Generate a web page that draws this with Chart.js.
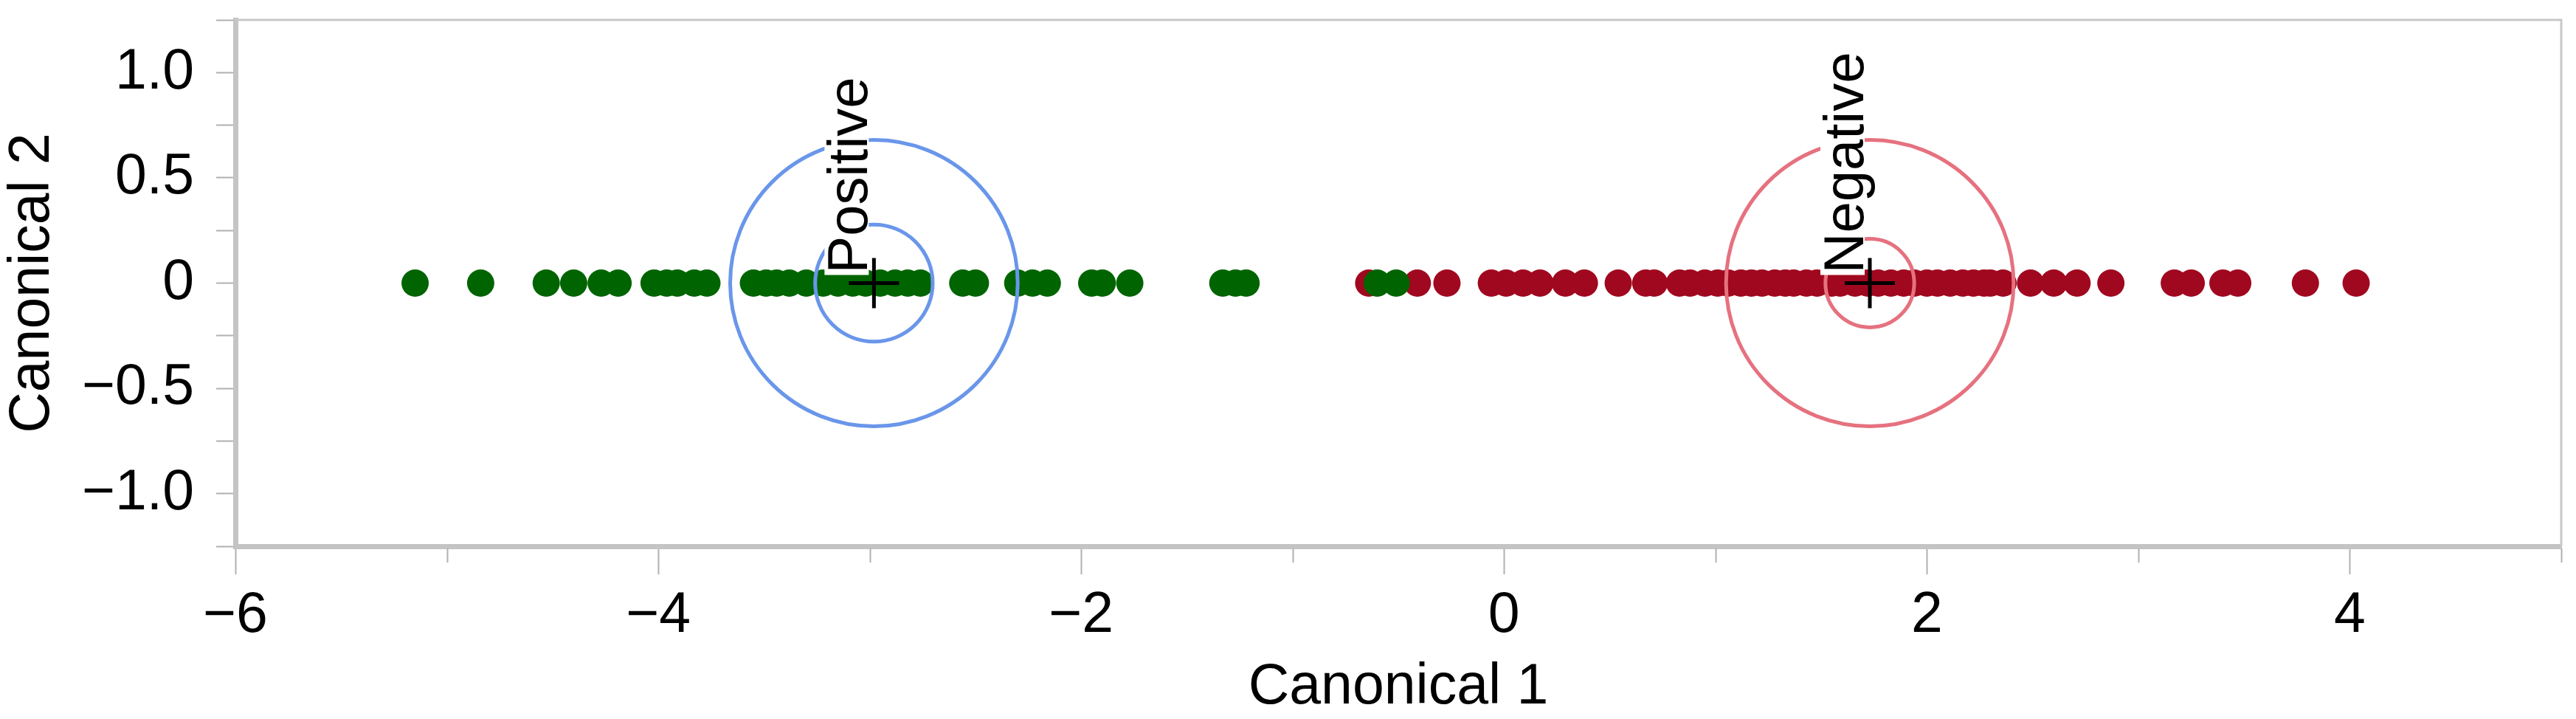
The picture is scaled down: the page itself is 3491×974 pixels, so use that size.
<!DOCTYPE html>
<html>
<head>
<meta charset="utf-8">
<script src="https://cdn.jsdelivr.net/npm/chart.js@4.4.1/dist/chart.umd.min.js"></script>
<style>
    html, body { margin: 0; padding: 0; background: #fff; }
    #wrap { width: 3491px; height: 974px; }
</style>
</head>
<body>
<div id="wrap"><canvas id="canonChart" width="3491" height="974"></canvas></div>
<script>
// DONNÉES
const groupNames = ['Positive', 'Negative'];

// Canonical 1 des observations (Canonical 2 vaut 0 partout)
const positiveC1 = [-5.15, -4.84, -4.53, -4.40, -4.27, -4.19, -4.02, -3.96, -3.91, -3.83, -3.77,
    -3.55, -3.49, -3.44, -3.38, -3.30, -3.22, -3.15, -3.08, -3.02, -2.95, -2.88, -2.82, -2.76,
    -2.56, -2.50, -2.30, -2.23, -2.16, -1.95, -1.90, -1.77, -1.33, -1.27, -1.22, -0.60, -0.51];
const negativeC1 = [-0.64, -0.41, -0.27, -0.06, 0.01, 0.09, 0.17, 0.29, 0.38, 0.54, 0.67, 0.71,
    0.83, 0.88, 0.95, 1.01, 1.06, 1.12, 1.17, 1.22, 1.28, 1.33, 1.37, 1.43, 1.48, 1.55, 1.59,
    1.66, 1.72, 1.77, 1.83, 1.89, 1.94, 2.00, 2.05, 2.11, 2.17, 2.22, 2.27, 2.30, 2.36,
    2.49, 2.60, 2.71, 2.87, 3.17, 3.25, 3.40, 3.47, 3.79, 4.03];

// Centres des groupes et rayons des cercles
const centroidC1 = [-2.98, 1.73];
const centroidC2 = [0, 0];
const innerRadius = [0.278, 0.21];
const outerRadius = [0.68, 0.68];

// Graduations
const xTickValues = [-6, -4, -2, 0, 2, 4];
const xTickLabels = ['\u22126', '\u22124', '\u22122', '0', '2', '4'];
const yTickValues = [-1, -0.5, 0, 0.5, 1];
const yTickLabels = ['\u22121.0', '\u22120.5', '0', '0.5', '1.0'];

const FONT = '"Liberation Sans", Arial, sans-serif';
const ringColors = ['#6a96ea', '#e6717f'];

// Cercles, étiquettes, cadre et petites graduations
const decorPlugin = {
    id: 'decor',
    beforeDatasetsDraw(chart) {
        const { ctx, chartArea: a, scales: { x } } = chart;
        ctx.save();
        ctx.strokeStyle = '#c8c8c8';
        ctx.lineWidth = 3;
        ctx.beginPath();
        ctx.moveTo(a.left, a.top);
        ctx.lineTo(a.right, a.top);
        ctx.lineTo(a.right, a.bottom);
        ctx.stroke();
        // petites graduations (valeurs impaires)
        ctx.strokeStyle = '#b0b0b0';
        ctx.lineWidth = 2;
        x.ticks.forEach(t => {
            if (Math.abs(t.value % 2) === 1) {
                const px = Math.round(x.getPixelForValue(t.value)) + 0.5;
                ctx.beginPath();
                ctx.moveTo(px, a.bottom + 3);
                ctx.lineTo(px, a.bottom + 22);
                ctx.stroke();
            }
        });
        ctx.restore();
    },
    afterDatasetDraw(chart, args) {
        if (args.index !== 1) return;
        const { ctx, scales: { x, y } } = chart;
        ctx.save();
        groupNames.forEach((name, i) => {
            const cx = x.getPixelForValue(centroidC1[i]);
            const cy = y.getPixelForValue(centroidC2[i]);
            [innerRadius[i], outerRadius[i]].forEach(r => {
                const rx = x.getPixelForValue(centroidC1[i] + r) - cx;
                const ry = cy - y.getPixelForValue(centroidC2[i] + r);
                ctx.beginPath();
                ctx.ellipse(cx, cy, rx, ry, 0, 0, Math.PI * 2);
                ctx.strokeStyle = ringColors[i];
                ctx.lineWidth = 5;
                ctx.stroke();
            });
            ctx.save();
            ctx.translate(cx - 9, cy - 13);
            ctx.rotate(-Math.PI / 2);
            ctx.font = '76px ' + FONT;
            const w = ctx.measureText(name).width;
            ctx.fillStyle = '#fff';
            ctx.fillRect(-2, -58, w + 4, 60);
            ctx.fillStyle = '#000';
            ctx.textBaseline = 'alphabetic';
            ctx.fillText(name, 0, 0);
            ctx.restore();
        });
        ctx.restore();
    }
};

const ctx = document.getElementById('canonChart').getContext('2d');
new Chart(ctx, {
    type: 'scatter',
    data: {
        datasets: [
            {
                // croix des centres (index 0 = dessiné au-dessus)
                data: centroidC1.map((v, i) => ({ x: v, y: centroidC2[i] })),
                pointStyle: 'cross',
                pointRadius: 34,
                borderColor: '#000',
                borderWidth: 5
            },
            {
                data: positiveC1.map(v => ({ x: v, y: 0 })),
                backgroundColor: '#006400',
                borderWidth: 0,
                pointRadius: 18.5
            },
            {
                data: negativeC1.map(v => ({ x: v, y: 0 })),
                backgroundColor: '#a0081f',
                borderWidth: 0,
                pointRadius: 18.5
            }
        ]
    },
    options: {
        responsive: false,
        animation: false,
        devicePixelRatio: 1,
        layout: {
            autoPadding: false,
            padding: { top: 27, right: 20, left: 0, bottom: 0 }
        },
        plugins: {
            legend: { display: false },
            tooltip: { enabled: false }
        },
        scales: {
            x: {
                type: 'linear',
                min: -6,
                max: 5,
                afterFit: s => {
                    s.height = 234;
                    s.paddingLeft = 0;
                    s.paddingRight = 0;
                },
                ticks: {
                    stepSize: 1,
                    autoSkip: false,
                    maxTicksLimit: 20,
                    maxRotation: 0,
                    padding: 18,
                    color: '#000',
                    font: { family: FONT, size: 77, lineHeight: 1 },
                    callback: function(value) {
                        const i = xTickValues.indexOf(value);
                        return i >= 0 ? xTickLabels[i] : '';
                    }
                },
                grid: {
                    drawOnChartArea: false,
                    tickLength: 38,
                    tickWidth: 2,
                    tickColor: c => (c.tick && Math.abs(c.tick.value % 2) === 0) ? '#b0b0b0' : 'rgba(0,0,0,0)'
                },
                border: { color: '#c4c4c4', width: 7 },
                title: {
                    display: true,
                    text: 'Canonical 1',
                    color: '#000',
                    font: { family: FONT, size: 77, lineHeight: 1 },
                    padding: { top: 0, bottom: 4 }
                }
            },
            y: {
                type: 'linear',
                min: -1.25,
                max: 1.25,
                afterFit: s => {
                    s.width = 319;
                    s.paddingTop = 0;
                    s.paddingBottom = 0;
                },
                ticks: {
                    stepSize: 0.25,
                    autoSkip: false,
                    maxTicksLimit: 20,
                    padding: 30,
                    color: '#000',
                    font: { family: FONT, size: 77, lineHeight: 1 },
                    callback: function(value) {
                        const i = yTickValues.indexOf(value);
                        return i >= 0 ? yTickLabels[i] : '';
                    }
                },
                grid: {
                    drawOnChartArea: false,
                    tickLength: 26,
                    tickWidth: 2,
                    tickColor: '#b0b0b0'
                },
                border: { color: '#c4c4c4', width: 7 },
                title: {
                    display: true,
                    text: 'Canonical 2',
                    color: '#000',
                    font: { family: FONT, size: 77, lineHeight: 1 },
                    padding: { top: 6, bottom: 0 }
                }
            }
        }
    },
    plugins: [decorPlugin]
});
</script>
</body>
</html>
